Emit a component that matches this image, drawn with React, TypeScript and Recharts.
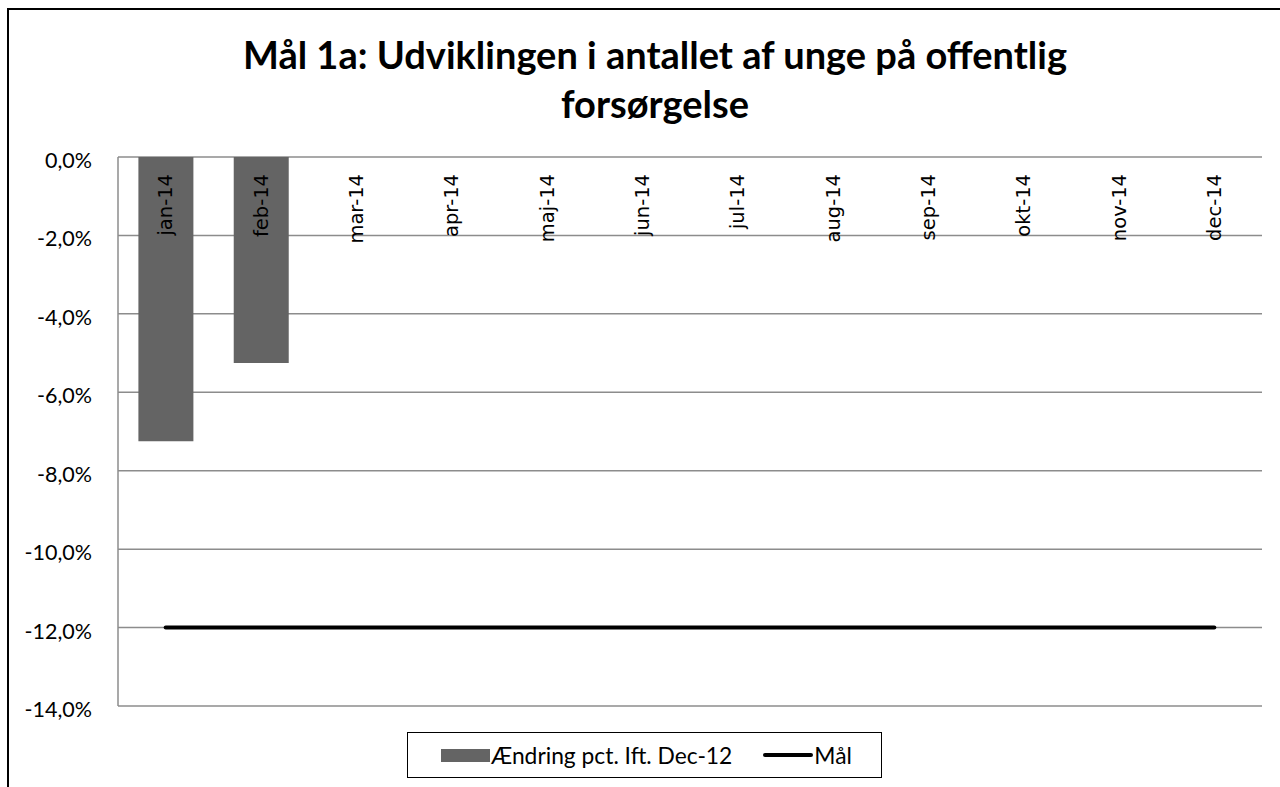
import React from 'react'
import {
  ComposedChart, Bar, Line, XAxis, YAxis, CartesianGrid, Legend,
} from 'recharts'

// maaneder i 2014
const months = ['jan-14', 'feb-14', 'mar-14', 'apr-14', 'maj-14', 'jun-14', 'jul-14', 'aug-14', 'sep-14', 'okt-14', 'nov-14', 'dec-14']
// aendring i pct. ift. dec-12 (kun jan og feb har tal)
const changeValues: (number | null)[] = [-7.25, -5.25, null, null, null, null, null, null, null, null, null, null]
// maal: -12 %
const targetValues = [-12, -12, -12, -12, -12, -12, -12, -12, -12, -12, -12, -12]
const yTicks = [0, -2, -4, -6, -8, -10, -12, -14]

const data = months.map((m, i) => ({ month: m, change: changeValues[i], target: targetValues[i] }))

const fmtPct = (v: number) => `${v.toFixed(1).replace('.', ',')}%`

// maanedsnavne staar lodret inde i plottet, under 0-linjen
const MonthTick = (props: any) => {
  const { x, y, payload } = props
  return (
    <text
      transform={`translate(${x},${y + 17}) rotate(-90)`}
      textAnchor="end"
      dominantBaseline="central"
      fontFamily="'DejaVu Sans', sans-serif"
      fontSize={19.5}
      fill="#000"
    >
      {payload.value}
    </text>
  )
}

const LegendBox = (props: any) => {
  // soejlen foerst, saa linjen
  const items = [...(props.payload || [])].sort((a: any, b: any) => (a.type === 'rect' ? -1 : 0) - (b.type === 'rect' ? -1 : 0))
  return (
    <div style={{
      boxSizing: 'border-box', width: '100%', height: '100%', border: '1.5px solid #000', background: '#fff',
      display: 'flex', alignItems: 'center', paddingLeft: 33, fontFamily: 'Lato, sans-serif', fontSize: 22.8, color: '#000',
    }}>
      {items.map((it: any, i: number) => (
        <div key={i} style={{ display: 'flex', alignItems: 'center', marginRight: 31 }}>
          {it.type === 'rect'
            ? <span style={{ display: 'inline-block', width: 49, height: 13, background: it.color, marginRight: 1 }} />
            : <span style={{ display: 'inline-block', width: 50, height: 4, borderRadius: 2, background: it.color, marginRight: 1 }} />}
          <span style={{ whiteSpace: 'nowrap' }}>{it.value}</span>
        </div>
      ))}
    </div>
  )
}

const YTick = (props: any) => {
  const { x, y, payload } = props
  return (
    <text x={x} y={y + 3} textAnchor="end" dominantBaseline="central" fontFamily="Lato, sans-serif" fontSize={21.5} fill="#000">
      {fmtPct(payload.value)}
    </text>
  )
}

export default function App() {
  return (
    <div style={{ position: 'fixed', left: 0, top: 0, width: 1280, height: 787, overflow: 'hidden', background: '#fff' }}>
      {/* ramme - kun venstre og top kant er synlig */}
      <div style={{ position: 'absolute', left: 7, top: 8, width: 1290, height: 800, borderLeft: '2px solid #000', borderTop: '2px solid #000' }} />
      <div style={{
        position: 'absolute', left: 155, top: 30, width: 1000, textAlign: 'center', whiteSpace: 'nowrap',
        fontFamily: 'Lato, sans-serif', fontWeight: 700, fontSize: 38, lineHeight: '49px', color: '#000',
      }}>
        Mål 1a: Udviklingen i antallet af unge på offentlig<br />forsørgelse
      </div>
      <div style={{ position: 'absolute', left: 0, top: 0 }}>
        <ComposedChart
          width={1280}
          height={787}
          data={data}
          margin={{ top: 127, right: 18, bottom: 81, left: 8 }}
          barCategoryGap="21.4%"
        >
          <CartesianGrid vertical={false} stroke="#8c8c8c" strokeWidth={1.5} />
          <XAxis
            dataKey="month"
            orientation="top"
            height={30}
            axisLine={false}
            tickLine={false}
            tickSize={0}
            tickMargin={0}
            interval={0}
            tick={<MonthTick />}
          />
          <YAxis
            domain={[-14, 0]}
            ticks={yTicks}
            width={110}
            axisLine={{ stroke: '#8c8c8c', strokeWidth: 1.5 }}
            tickLine={false}
            tickSize={0}
            tickMargin={26}
            tick={<YTick />}
          />
          <Legend
            layout="horizontal"
            verticalAlign="middle"
            align="center"
            content={<LegendBox />}
            wrapperStyle={{ position: 'absolute', left: 407, top: 732, width: 475, height: 46 }}
          />
          <Bar dataKey="change" name="Ændring pct. Ift. Dec-12" fill="#646464" legendType="rect" isAnimationActive={false} />
          <Line
            dataKey="target"
            name="Mål"
            stroke="#000"
            strokeWidth={4}
            strokeLinecap="round"
            dot={false}
            legendType="plainline"
            isAnimationActive={false}
          />
        </ComposedChart>
      </div>
    </div>
  )
}
